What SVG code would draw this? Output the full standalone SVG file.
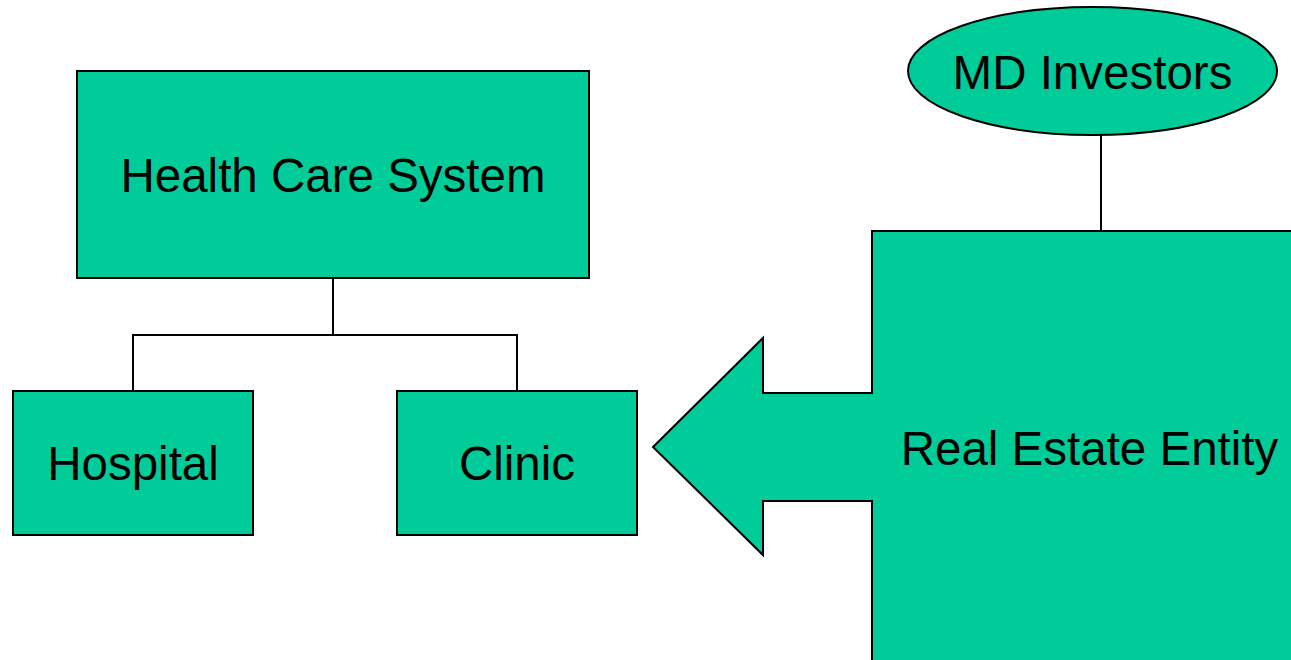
<svg xmlns="http://www.w3.org/2000/svg" width="1291" height="660" viewBox="0 0 1291 660">
<style>
.n{fill:#00CC99;stroke:#000;stroke-width:2}
.c{fill:none;stroke:#000;stroke-width:2}
.t{font-family:"Liberation Sans",Arial,sans-serif;font-size:47.5px;fill:#000;text-anchor:middle}
</style>
<rect width="1291" height="660" fill="#fff"/>
<g id="connectors">
<path class="c" d="M333 278V335M133 391V335H517V391"/>
<path class="c" d="M1101 135V231"/>
</g>
<g id="health-care-system">
<rect class="n" x="77" y="71" width="512" height="207"/>
<text class="t" x="333" y="192">Health Care System</text>
</g>
<g id="hospital">
<rect class="n" x="13" y="391" width="240" height="144"/>
<text class="t" x="133" y="480">Hospital</text>
</g>
<g id="clinic">
<rect class="n" x="397" y="391" width="240" height="144"/>
<text class="t" x="517" y="480">Clinic</text>
</g>
<g id="md-investors">
<ellipse class="n" cx="1092.5" cy="71" rx="184.5" ry="64"/>
<text class="t" x="1092.5" y="89">MD Investors</text>
</g>
<g id="real-estate-entity">
<path class="n" d="M1300 231H872V393H763V338L653 447L763 555V501H872V670H1300Z"/>
<text class="t" x="1089.5" y="465">Real Estate Entity</text>
</g>
</svg>
